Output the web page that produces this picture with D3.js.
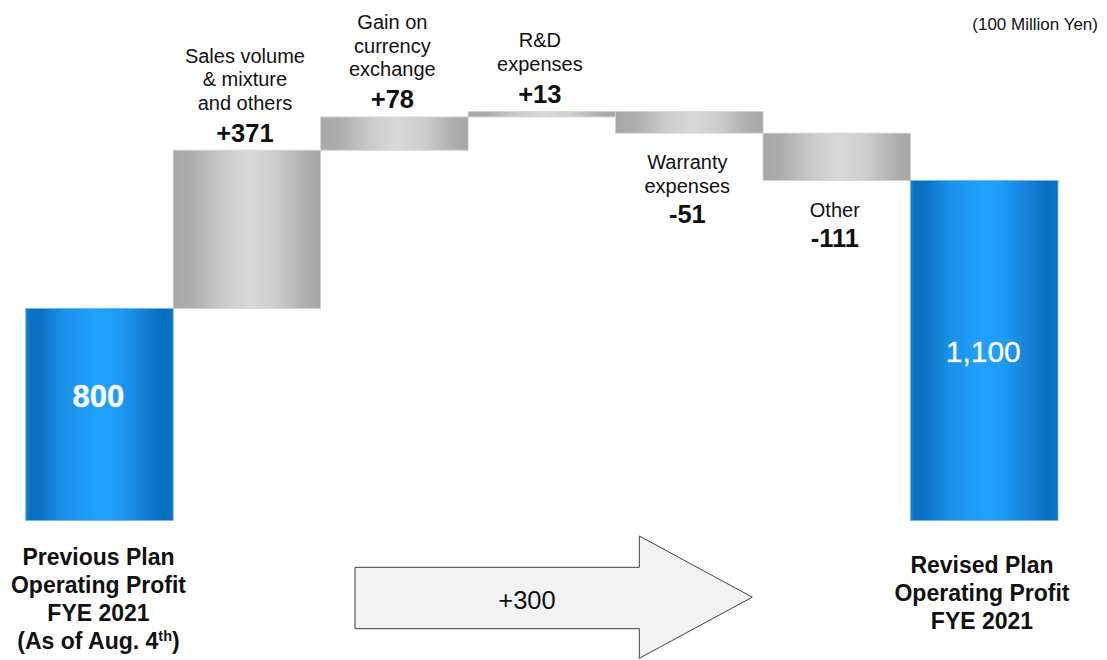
<!DOCTYPE html>
<html>
<head>
<meta charset="utf-8">
<script src="https://cdn.jsdelivr.net/npm/d3@7/dist/d3.min.js"></script>
<style>
  html, body { margin: 0; padding: 0; background: #ffffff; }
  svg { display: block; font-family: "Liberation Sans", Arial, sans-serif; }
</style>
</head>
<body>
<svg id="chart" width="1107" height="660"></svg>
<script>
// Operating profit bridge, FYE 2021 (unit: 100 million yen)
const categories = ["prev", "sales", "fx", "rnd", "warranty", "other", "revised"];
const kinds = ["total", "delta", "delta", "delta", "delta", "delta", "total"];
const values = [800, 371, 78, 13, -51, -111, 1100];
const deltaLabels = [
  null,
  ["Sales volume", "& mixture", "and others"],
  ["Gain on", "currency", "exchange"],
  ["R&D", "expenses"],
  ["Warranty", "expenses"],
  ["Other"],
  null
];
const valueLabels = ["800", "+371", "+78", "+13", "-51", "-111", "1,100"];
const totalLabels = [
  ["Previous Plan", "Operating Profit", "FYE 2021", "(As of Aug. 4th)"],
  ["Revised Plan", "Operating Profit", "FYE 2021"]
];
const changeLabel = "+300";
const unitLabel = "(100 Million Yen)";
const axisFloor = 303;

const svg = d3.select("#chart");

// running totals for the bridge
let run = 0;
const bars = categories.map((c, i) => {
  let lo, hi;
  if (kinds[i] === "total") { lo = axisFloor; hi = values[i]; run = values[i]; }
  else { const start = run; run += values[i]; lo = Math.min(start, run); hi = Math.max(start, run); }
  return { key: c, kind: kinds[i], value: values[i], lo, hi, i };
});

const x = d3.scaleBand().domain(categories).range([25.7, 1058]).padding(0);
const y = d3.scaleLinear().domain([axisFloor, 1100]).range([520.5, 180.5]);

// gradients
const defs = svg.append("defs");
const blue = defs.append("linearGradient").attr("id", "gBlue").attr("x1", "0").attr("x2", "1").attr("y1", "0").attr("y2", "0");
[["0%", "#1a86d8"], ["3%", "#0b70c0"], ["10%", "#0a72c4"], ["25%", "#1a8fe6"], ["48%", "#20a1ff"], ["62%", "#1e9bf8"], ["80%", "#1580d6"], ["93%", "#0670c0"], ["100%", "#0a72c4"]]
  .forEach(([o, c]) => blue.append("stop").attr("offset", o).attr("stop-color", c));
const gray = defs.append("linearGradient").attr("id", "gGray").attr("x1", "0").attr("x2", "1").attr("y1", "0").attr("y2", "0");
[["0%", "#a8a8a8"], ["12%", "#acacac"], ["35%", "#cccccc"], ["52%", "#d9d9d9"], ["70%", "#cdcdcd"], ["90%", "#aeaeae"], ["100%", "#a6a6a6"]]
  .forEach(([o, c]) => gray.append("stop").attr("offset", o).attr("stop-color", c));

// bars
svg.append("g").selectAll("rect").data(bars).join("rect")
  .attr("x", d => x(d.key))
  .attr("width", x.bandwidth())
  .attr("y", d => y(d.hi))
  .attr("height", d => Math.max(1, y(d.lo) - y(d.hi)))
  .attr("fill", d => d.kind === "total" ? "url(#gBlue)" : "url(#gGray)")
  .attr("stroke", d => d.kind === "total" ? "#6cb6f0" : "#d2d2d2")
  .attr("stroke-width", 0.8);

// values inside total bars
const totals = bars.filter(d => d.kind === "total");
svg.append("g").selectAll("text").data(totals).join("text")
  .attr("x", d => x(d.key) + x.bandwidth() / 2 - 1)
  .attr("y", (d, k) => k === 0 ? 406.5 : 361.5)
  .attr("text-anchor", "middle")
  .attr("fill", "#ffffff")
  .attr("font-size", (d, k) => k === 0 ? 31 : 30)
  .attr("font-weight", (d, k) => k === 0 ? "bold" : "normal")
  .style("paint-order", "stroke")
  .attr("stroke", "rgba(255,255,255,0.35)")
  .attr("stroke-width", 1)
  .text(d => valueLabels[d.i]);

// labels above rising steps, below falling steps
const lineH = 23.5;
const deltas = bars.filter(d => d.kind === "delta");
const lg = svg.append("g");
deltas.forEach(d => {
  const cx = x(d.key) + x.bandwidth() / 2 - 2;
  const lines = deltaLabels[d.i];
  let valueBase, firstBase;
  if (d.value > 0) {
    valueBase = y(d.hi) - 8.5;
    firstBase = valueBase - 32 - (lines.length - 1) * lineH;
  } else {
    firstBase = y(d.lo) + 36;
    valueBase = firstBase + (lines.length - 1) * lineH + 30;
  }
  lines.forEach((t, k) => {
    lg.append("text").attr("x", cx).attr("y", firstBase + k * lineH)
      .attr("text-anchor", "middle").attr("font-size", 20).attr("fill", "#111")
      .text(t);
  });
  lg.append("text").attr("x", cx).attr("y", valueBase)
    .attr("text-anchor", "middle").attr("font-size", 25.5).attr("font-weight", "bold").attr("fill", "#111")
    .text(valueLabels[d.i]);
});

// captions under the total bars
const capG = svg.append("g");
const capX = [98.5, 982];
const capY = [565, 573.3];
totalLabels.forEach((lines, j) => {
  lines.forEach((t, k) => {
    const tx = capG.append("text").attr("x", capX[j]).attr("y", capY[j] + k * 28)
      .attr("text-anchor", "middle").attr("font-size", 23).attr("font-weight", "bold").attr("fill", "#111");
    const m = t.match(/^(.*\d)(th)(\))$/);
    if (m) {
      tx.append("tspan").text(m[1]);
      tx.append("tspan").attr("font-size", 14.5).attr("dy", -8.5).text(m[2]);
      tx.append("tspan").attr("dy", 8.5).text(m[3]);
    } else {
      tx.text(t);
    }
  });
});

// change arrow between the two totals
const ax0 = 355, ax1 = 639.3, axTip = 752.3, bodyT = 567.3, bodyB = 628.7, headT = 536, headB = 658.3;
const midY = (headT + headB) / 2;
svg.append("path")
  .attr("d", d3.line()([[ax0, bodyT], [ax1, bodyT], [ax1, headT], [axTip, midY], [ax1, headB], [ax1, bodyB], [ax0, bodyB]]) + "Z")
  .attr("fill", "#f2f2f2").attr("stroke", "#404040").attr("stroke-width", 1);
svg.append("text").attr("x", 527).attr("y", 608.5).attr("text-anchor", "middle")
  .attr("font-size", 25.5).attr("fill", "#111").text(changeLabel);

// unit note
svg.append("text").attr("x", 1098).attr("y", 30).attr("text-anchor", "end")
  .attr("font-size", 17).attr("fill", "#111").text(unitLabel);
</script>
</body>
</html>
